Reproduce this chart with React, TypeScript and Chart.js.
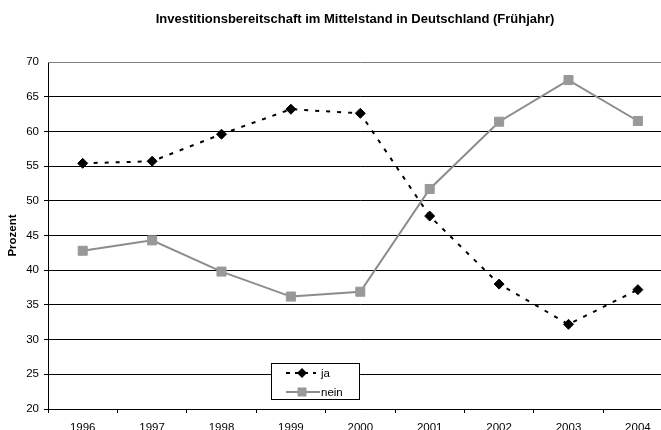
import React, { useEffect, useRef } from 'react';
import { Chart, registerables } from 'chart.js';

Chart.register(...registerables);

const titleText = 'Investitionsbereitschaft im Mittelstand in Deutschland (Frühjahr)';
const yAxisLabel = 'Prozent';
const years = ['1996', '1997', '1998', '1999', '2000', '2001', '2002', '2003', '2004'];
const jaValues = [55.4, 55.7, 59.6, 63.2, 62.6, 47.8, 38.0, 32.2, 37.2];
const neinValues = [42.8, 44.3, 39.8, 36.2, 36.9, 51.7, 61.4, 67.4, 61.5];
const seriesLabels = ['ja', 'nein'];
const yMin = 20;
const yMax = 70;
const yStep = 5;

const FONT = "Arial, 'Liberation Sans', sans-serif";
const GRAY_LINE = '#8c8c8c';
const GRAY_FILL = '#999999';
const DASH = [4, 7];

const titlePlugin = {
  id: 'customTitle',
  afterDraw(chart: any) {
    const ctx = chart.ctx;
    ctx.save();
    ctx.font = `bold 13px ${FONT}`;
    ctx.fillStyle = '#000';
    ctx.textAlign = 'center';
    ctx.textBaseline = 'middle';
    ctx.fillText(titleText, 355, 19);
    ctx.restore();
  },
};

const framePlugin = {
  id: 'frame',
  beforeDatasetsDraw(chart: any) {
    const { ctx, chartArea } = chart;
    ctx.save();
    ctx.strokeStyle = '#808080';
    ctx.lineWidth = 1;
    ctx.beginPath();
    ctx.moveTo(chartArea.left, Math.round(chartArea.top) + 0.5);
    ctx.lineTo(chartArea.right, Math.round(chartArea.top) + 0.5);
    ctx.lineTo(chartArea.right, chartArea.bottom);
    ctx.stroke();
    ctx.restore();
  },
};

const legendPlugin = {
  id: 'boxLegend',
  afterDraw(chart: any) {
    const ctx = chart.ctx;
    const x0 = 271, y0 = 363, w = 88, h = 36;
    ctx.save();
    ctx.fillStyle = '#fff';
    ctx.fillRect(x0, y0, w, h);
    ctx.strokeStyle = '#000';
    ctx.lineWidth = 1;
    ctx.strokeRect(x0 + 0.5, y0 + 0.5, w, h);
    // row 1: ja
    const r1 = y0 + 10;
    ctx.strokeStyle = '#000';
    ctx.lineWidth = 2;
    ctx.setLineDash([4, 5]);
    ctx.beginPath();
    ctx.moveTo(286, r1);
    ctx.lineTo(316, r1);
    ctx.stroke();
    ctx.setLineDash([]);
    ctx.fillStyle = '#000';
    ctx.beginPath();
    ctx.moveTo(302, r1 - 5);
    ctx.lineTo(307, r1);
    ctx.lineTo(302, r1 + 5);
    ctx.lineTo(297, r1);
    ctx.closePath();
    ctx.fill();
    // row 2: nein
    const r2 = y0 + 29;
    ctx.strokeStyle = GRAY_LINE;
    ctx.lineWidth = 2;
    ctx.beginPath();
    ctx.moveTo(286, r2);
    ctx.lineTo(320, r2);
    ctx.stroke();
    ctx.fillStyle = GRAY_FILL;
    ctx.fillRect(297.5, r2 - 4.5, 9, 9);
    // text
    ctx.fillStyle = '#000';
    ctx.font = `11.5px ${FONT}`;
    ctx.textAlign = 'left';
    ctx.textBaseline = 'middle';
    ctx.fillText(seriesLabels[0], 321, r1 + 1);
    ctx.fillText(seriesLabels[1], 321, r2 + 1);
    ctx.restore();
  },
};

export default function App() {
  const canvasRef = useRef<HTMLCanvasElement | null>(null);

  useEffect(() => {
    document.body.style.margin = '0';
    const canvas = canvasRef.current;
    if (!canvas) return;
    const chart = new Chart(canvas, {
      type: 'line',
      data: {
        labels: years,
        datasets: [
          {
            label: seriesLabels[0],
            data: jaValues,
            borderColor: '#000',
            backgroundColor: '#000',
            borderWidth: 2,
            borderDash: DASH,
            pointStyle: 'rectRot',
            pointRadius: 5,
            pointBackgroundColor: '#000',
            pointBorderColor: '#000',
            pointBorderWidth: 1,
            tension: 0,
          },
          {
            label: seriesLabels[1],
            data: neinValues,
            borderColor: GRAY_LINE,
            backgroundColor: GRAY_FILL,
            borderWidth: 2,
            pointStyle: 'rect',
            pointRadius: 6.4,
            pointBackgroundColor: GRAY_FILL,
            pointBorderColor: GRAY_FILL,
            pointBorderWidth: 1,
            tension: 0,
          },
        ],
      },
      options: {
        responsive: false,
        animation: false,
        devicePixelRatio: 1,
        layout: { padding: { top: 62, left: 0, right: 6, bottom: 0 } },
        plugins: {
          legend: { display: false },
          title: { display: false },
          tooltip: { enabled: false },
        },
        scales: {
          x: {
            type: 'category',
            offset: true,
            afterFit: (scale: any) => { scale.height = 41; },
            grid: {
              offset: true,
              drawOnChartArea: false,
              drawTicks: true,
              tickLength: 4,
              color: '#000',
            },
            border: { display: true, color: '#000', width: 1 },
            ticks: {
              color: '#000',
              padding: 8,
              maxRotation: 0,
              autoSkip: false,
              font: { family: FONT, size: 11.5 },
            },
          },
          y: {
            min: yMin,
            max: yMax,
            afterFit: (scale: any) => { scale.width = 48; },
            grid: {
              color: (c: any) => (c.tick && c.tick.value === yMax ? 'rgba(0,0,0,0)' : '#000'),
              drawTicks: true,
              tickLength: 4,
            },
            border: { display: true, color: '#000', width: 1 },
            ticks: {
              stepSize: yStep,
              color: '#000',
              padding: 5,
              font: { family: FONT, size: 11.5 },
            },
            title: {
              display: true,
              text: yAxisLabel,
              color: '#000',
              font: { family: FONT, size: 11.5, weight: 'bold' },
              padding: { top: 6, bottom: 0 },
            },
          },
        },
      },
      plugins: [titlePlugin, framePlugin, legendPlugin],
    });
    return () => chart.destroy();
  }, []);

  return (
    <div style={{ position: 'fixed', left: 0, top: 0, width: 661, height: 430, overflow: 'hidden', background: '#fff' }}>
      <canvas ref={canvasRef} width={680} height={450} style={{ display: 'block', width: 680, height: 450 }} />
    </div>
  );
}
